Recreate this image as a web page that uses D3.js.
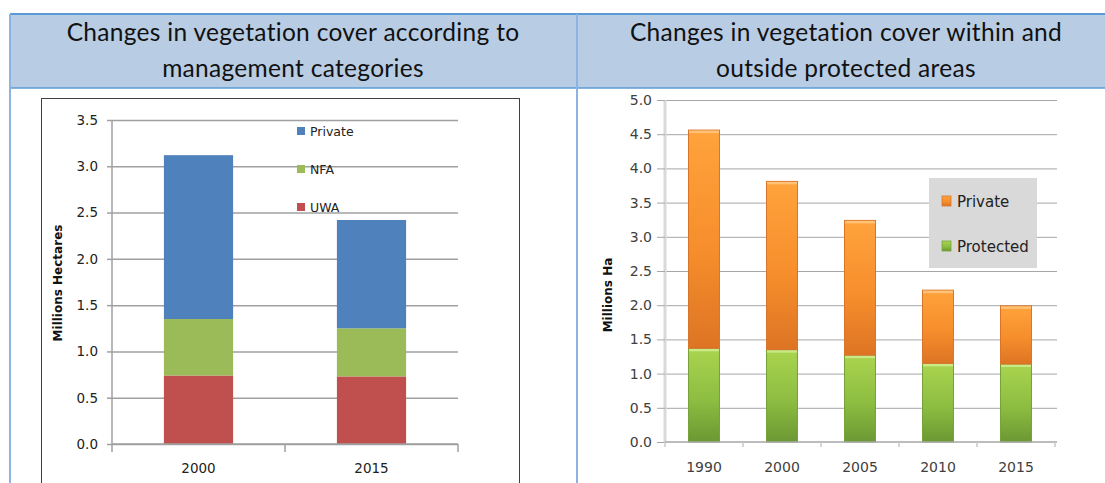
<!DOCTYPE html>
<meta charset="utf-8">
<script src="https://cdn.jsdelivr.net/npm/d3@7"></script>
<style>
  body { margin: 0; background: #fff; }
</style>
<div id="my_dataviz"></div>
<script>

    // ---- data ----
    var headerLeft = ["Changes in vegetation cover according to", "management categories"];
    var headerRight = ["Changes in vegetation cover within and", "outside protected areas"];

    // left chart: management categories (millions hectares)
    var mgmtYears = ["2000", "2015"];
    var mgmtSeries = ["UWA", "NFA", "Private"];
    var uwaHa = [0.74, 0.73];
    var nfaHa = [0.61, 0.52];
    var privateMgmtHa = [1.77, 1.17];
    var leftTicks = [0, 0.5, 1.0, 1.5, 2.0, 2.5, 3.0, 3.5];

    // right chart: within / outside protected areas (millions ha)
    var paYears = ["1990", "2000", "2005", "2010", "2015"];
    var paSeries = ["Protected", "Private"];
    var protectedHa = [1.37, 1.35, 1.27, 1.15, 1.14];
    var privatePaHa = [3.19, 2.46, 1.97, 1.07, 0.85];
    var rightTicks = [0, 0.5, 1.0, 1.5, 2.0, 2.5, 3.0, 3.5, 4.0, 4.5, 5.0];

    var W = 1105, H = 483;
    var fmt = d3.format(".1f");

    var svg = d3.select("#my_dataviz")
      .append("svg")
        .attr("width", W)
        .attr("height", H);

    // ---- table header ----
    svg.append("rect")
      .attr("x", 10).attr("y", 14).attr("width", W).attr("height", 74)
      .attr("fill", "#b8cce4");
    svg.append("line").attr("x1", 10).attr("x2", W).attr("y1", 14).attr("y2", 14)
      .attr("stroke", "#5b9bd5").attr("stroke-width", 2);
    svg.append("line").attr("x1", 10).attr("x2", W).attr("y1", 88).attr("y2", 88)
      .attr("stroke", "#5b9bd5").attr("stroke-width", 1.5);
    svg.append("line").attr("x1", 10).attr("x2", 10).attr("y1", 14).attr("y2", H)
      .attr("stroke", "#8db3e2").attr("stroke-width", 2);
    svg.append("line").attr("x1", 577).attr("x2", 577).attr("y1", 14).attr("y2", H)
      .attr("stroke", "#8db3e2").attr("stroke-width", 2);

    function headerText(lines, cx) {
      svg.append("g").selectAll("text")
        .data(lines)
        .enter()
        .append("text")
          .attr("x", cx)
          .attr("y", function(d, i) { return 41 + i * 36; })
          .attr("text-anchor", "middle")
          .style("font-family", "Lato, sans-serif")
          .style("font-size", "24.5px")
          .style("letter-spacing", "0.3px")
          .attr("fill", "#111")
          .text(function(d) { return d; });
    }
    headerText(headerLeft, 293);
    headerText(headerRight, 846);

    // ================= LEFT CHART =================
    // picture frame
    svg.append("rect")
      .attr("x", 41.5).attr("y", 98.5).attr("width", 478).attr("height", 400)
      .attr("fill", "#fff").attr("stroke", "#404040").attr("stroke-width", 1);

    var xL = d3.scaleBand()
      .domain(mgmtYears)
      .range([112, 458])
      .paddingInner(0.6)
      .paddingOuter(0.3);
    var yL = d3.scaleLinear()
      .domain([0, 3.5])
      .range([444, 120]);

    // gridlines
    svg.append("g")
      .attr("transform", "translate(112,0)")
      .call(d3.axisLeft(yL).tickValues(leftTicks).tickSize(-(458 - 112)).tickFormat(""))
      .call(function(g) { g.select(".domain").remove(); })
      .selectAll("line").attr("stroke", "#a0a0a0").attr("stroke-width", 1.5);

    // y axis
    var yAxisL = svg.append("g")
      .attr("transform", "translate(112,0)")
      .call(d3.axisLeft(yL).tickValues(leftTicks).tickSize(5).tickPadding(9).tickFormat(fmt));
    yAxisL.select(".domain").attr("stroke", "#a0a0a0").attr("stroke-width", 1.5).attr("d", "M0,444V120");
    yAxisL.selectAll("line").attr("stroke", "#a0a0a0").attr("stroke-width", 1.5);
    yAxisL.selectAll("text")
      .style("font-family", "'DejaVu Sans', sans-serif")
      .style("font-size", "13.5px")
      .attr("fill", "#222");

    // stacked bars
    var leftRows = mgmtYears.map(function(y, i) {
      return { year: y, UWA: uwaHa[i], NFA: nfaHa[i], Private: privateMgmtHa[i] };
    });
    var leftStack = d3.stack().keys(mgmtSeries)(leftRows);
    var leftColor = d3.scaleOrdinal()
      .domain(mgmtSeries)
      .range(["#c0504d", "#9bbb59", "#4f81bd"]);

    svg.append("g")
      .selectAll("g")
      .data(leftStack)
      .enter()
      .append("g")
        .attr("fill", function(d) { return leftColor(d.key); })
      .selectAll("rect")
      .data(function(d) { return d; })
      .enter()
      .append("rect")
        .attr("x", function(d) { return xL(d.data.year); })
        .attr("y", function(d) { return yL(d[1]); })
        .attr("width", xL.bandwidth())
        .attr("height", function(d) { return yL(d[0]) - yL(d[1]); });

    // x axis line + boundary ticks
    svg.append("line")
      .attr("x1", 112).attr("x2", 458).attr("y1", 444).attr("y2", 444)
      .attr("stroke", "#a0a0a0").attr("stroke-width", 1.5);
    var boundsL = d3.range(mgmtYears.length + 1).map(function(i) { return 112 + i * xL.step(); });
    svg.append("g").selectAll("line")
      .data(boundsL)
      .enter()
      .append("line")
        .attr("x1", function(d) { return d; }).attr("x2", function(d) { return d; })
        .attr("y1", 444).attr("y2", 452)
        .attr("stroke", "#a0a0a0").attr("stroke-width", 1.5);
    svg.append("g").selectAll("text")
      .data(mgmtYears)
      .enter()
      .append("text")
        .attr("x", function(d) { return xL(d) + xL.bandwidth() / 2; })
        .attr("y", 473)
        .attr("text-anchor", "middle")
        .style("font-family", "'DejaVu Sans', sans-serif")
        .style("font-size", "13.5px")
        .attr("fill", "#222")
        .text(function(d) { return d; });

    // y title
    svg.append("text")
      .attr("transform", "translate(62,283) rotate(-90)")
      .attr("text-anchor", "middle")
      .style("font-family", "'DejaVu Sans', sans-serif")
      .style("font-size", "12px")
      .style("font-weight", "bold")
      .attr("fill", "#111")
      .text("Millions Hectares");

    // legend
    var legendL = svg.append("g").selectAll("g")
      .data(mgmtSeries.slice().reverse())
      .enter()
      .append("g")
        .attr("transform", function(d, i) { return "translate(297," + (131 + i * 38) + ")"; });
    legendL.append("rect")
      .attr("x", 0).attr("y", -4).attr("width", 8).attr("height", 8)
      .attr("fill", function(d) { return leftColor(d); });
    legendL.append("text")
      .attr("x", 13).attr("y", 4.5)
      .style("font-family", "'DejaVu Sans', sans-serif")
      .style("font-size", "12.5px")
      .attr("fill", "#222")
      .text(function(d) { return d; });

    // ================= RIGHT CHART =================
    var defs = svg.append("defs");
    var gradStops = {
      Private: [["0%", "#ffa33c"], ["55%", "#f68e2c"], ["100%", "#dd7424"]],
      Protected: [["0%", "#a9d44f"], ["55%", "#8dbd41"], ["100%", "#6b9833"]]
    };
    paSeries.forEach(function(k) {
      var g = defs.append("linearGradient")
        .attr("id", "grad" + k)
        .attr("x1", 0).attr("x2", 0).attr("y1", 0).attr("y2", 1);
      gradStops[k].forEach(function(s) {
        g.append("stop").attr("offset", s[0]).attr("stop-color", s[1]);
      });
    });
    var rightEdge = { Private: "#d9752a", Protected: "#78a33a" };
    var rightTop = { Private: "#ffc277", Protected: "#c9ea86" };

    var xR = d3.scaleBand()
      .domain(paYears)
      .range([665, 1055])
      .paddingInner(0.59)
      .paddingOuter(0.295);
    var yR = d3.scaleLinear()
      .domain([0, 5])
      .range([442, 100]);

    // gridlines
    svg.append("g")
      .attr("transform", "translate(665,0)")
      .call(d3.axisLeft(yR).tickValues(rightTicks.slice(1)).tickSize(-(1057 - 665)).tickFormat(""))
      .call(function(g) { g.select(".domain").remove(); })
      .selectAll("line").attr("stroke", "#a6a6a6").attr("stroke-width", 1);

    // y axis
    var yAxisR = svg.append("g")
      .attr("transform", "translate(665,0)")
      .call(d3.axisLeft(yR).tickValues(rightTicks).tickSize(8).tickPadding(5).tickFormat(fmt));
    yAxisR.select(".domain").attr("stroke", "#d9d9d9").attr("stroke-width", 3).attr("d", "M0,442V100");
    yAxisR.selectAll("line").attr("stroke", "#a6a6a6");
    yAxisR.selectAll("text")
      .style("font-family", "'DejaVu Sans', sans-serif")
      .style("font-size", "14px")
      .attr("fill", "#404040");

    // stacked bars
    var rightRows = paYears.map(function(y, i) {
      return { year: y, Protected: protectedHa[i], Private: privatePaHa[i] };
    });
    var rightStack = d3.stack().keys(paSeries)(rightRows);

    var segs = svg.append("g")
      .selectAll("g")
      .data(rightStack)
      .enter()
      .append("g")
        .attr("data-key", function(d) { return d.key; });
    segs.selectAll("rect.bar")
      .data(function(d) { return d.map(function(p) { p.key = d.key; return p; }); })
      .enter()
      .append("rect")
        .attr("class", "bar")
        .attr("x", function(d) { return xR(d.data.year) + 0.5; })
        .attr("y", function(d) { return yR(d[1]); })
        .attr("width", xR.bandwidth() - 1)
        .attr("height", function(d) { return yR(d[0]) - yR(d[1]); })
        .attr("fill", function(d) { return "url(#grad" + d.key + ")"; })
        .attr("stroke", function(d) { return rightEdge[d.key]; })
        .attr("stroke-width", 1);
    segs.selectAll("rect.hl")
      .data(function(d) { return d; })
      .enter()
      .append("rect")
        .attr("class", "hl")
        .attr("x", function(d) { return xR(d.data.year) + 1; })
        .attr("y", function(d) { return yR(d[1]) + 0.5; })
        .attr("width", xR.bandwidth() - 2)
        .attr("height", 2.5)
        .attr("fill", function(d) { return rightTop[d.key]; });

    // x axis line + boundary ticks
    svg.append("line")
      .attr("x1", 665).attr("x2", 1057).attr("y1", 442).attr("y2", 442)
      .attr("stroke", "#a6a6a6").attr("stroke-width", 1.5);
    var boundsR = d3.range(paYears.length + 1).map(function(i) { return 665 + i * xR.step(); });
    svg.append("g").selectAll("line")
      .data(boundsR)
      .enter()
      .append("line")
        .attr("x1", function(d) { return d; }).attr("x2", function(d) { return d; })
        .attr("y1", 442).attr("y2", 447)
        .attr("stroke", "#c8c8c8").attr("stroke-width", 1.5);
    svg.append("g").selectAll("text")
      .data(paYears)
      .enter()
      .append("text")
        .attr("x", function(d) { return xR(d) + xR.bandwidth() / 2; })
        .attr("y", 472)
        .attr("text-anchor", "middle")
        .style("font-family", "'DejaVu Sans', sans-serif")
        .style("font-size", "14px")
        .attr("fill", "#404040")
        .text(function(d) { return d; });

    // y title
    svg.append("text")
      .attr("transform", "translate(612,295) rotate(-90)")
      .attr("text-anchor", "middle")
      .style("font-family", "'DejaVu Sans', sans-serif")
      .style("font-size", "12px")
      .style("font-weight", "bold")
      .attr("fill", "#111")
      .text("Millions Ha");

    // legend
    var legR = svg.append("g").attr("transform", "translate(929,178)");
    legR.append("rect")
      .attr("width", 108).attr("height", 90)
      .attr("fill", "#d9d9d9");
    var legItems = legR.selectAll("g")
      .data(paSeries.slice().reverse())
      .enter()
      .append("g")
        .attr("transform", function(d, i) { return "translate(13," + (23 + i * 45) + ")"; });
    legItems.append("rect")
      .attr("x", 0).attr("y", -5).attr("width", 9).attr("height", 10)
      .attr("fill", function(d) { return "url(#grad" + d + ")"; })
      .attr("stroke", function(d) { return rightEdge[d]; })
      .attr("stroke-width", 0.8);
    legItems.append("text")
      .attr("x", 15).attr("y", 6)
      .style("font-family", "'DejaVu Sans', sans-serif")
      .style("font-size", "15px")
      .attr("fill", "#222")
      .text(function(d) { return d; });

</script>
